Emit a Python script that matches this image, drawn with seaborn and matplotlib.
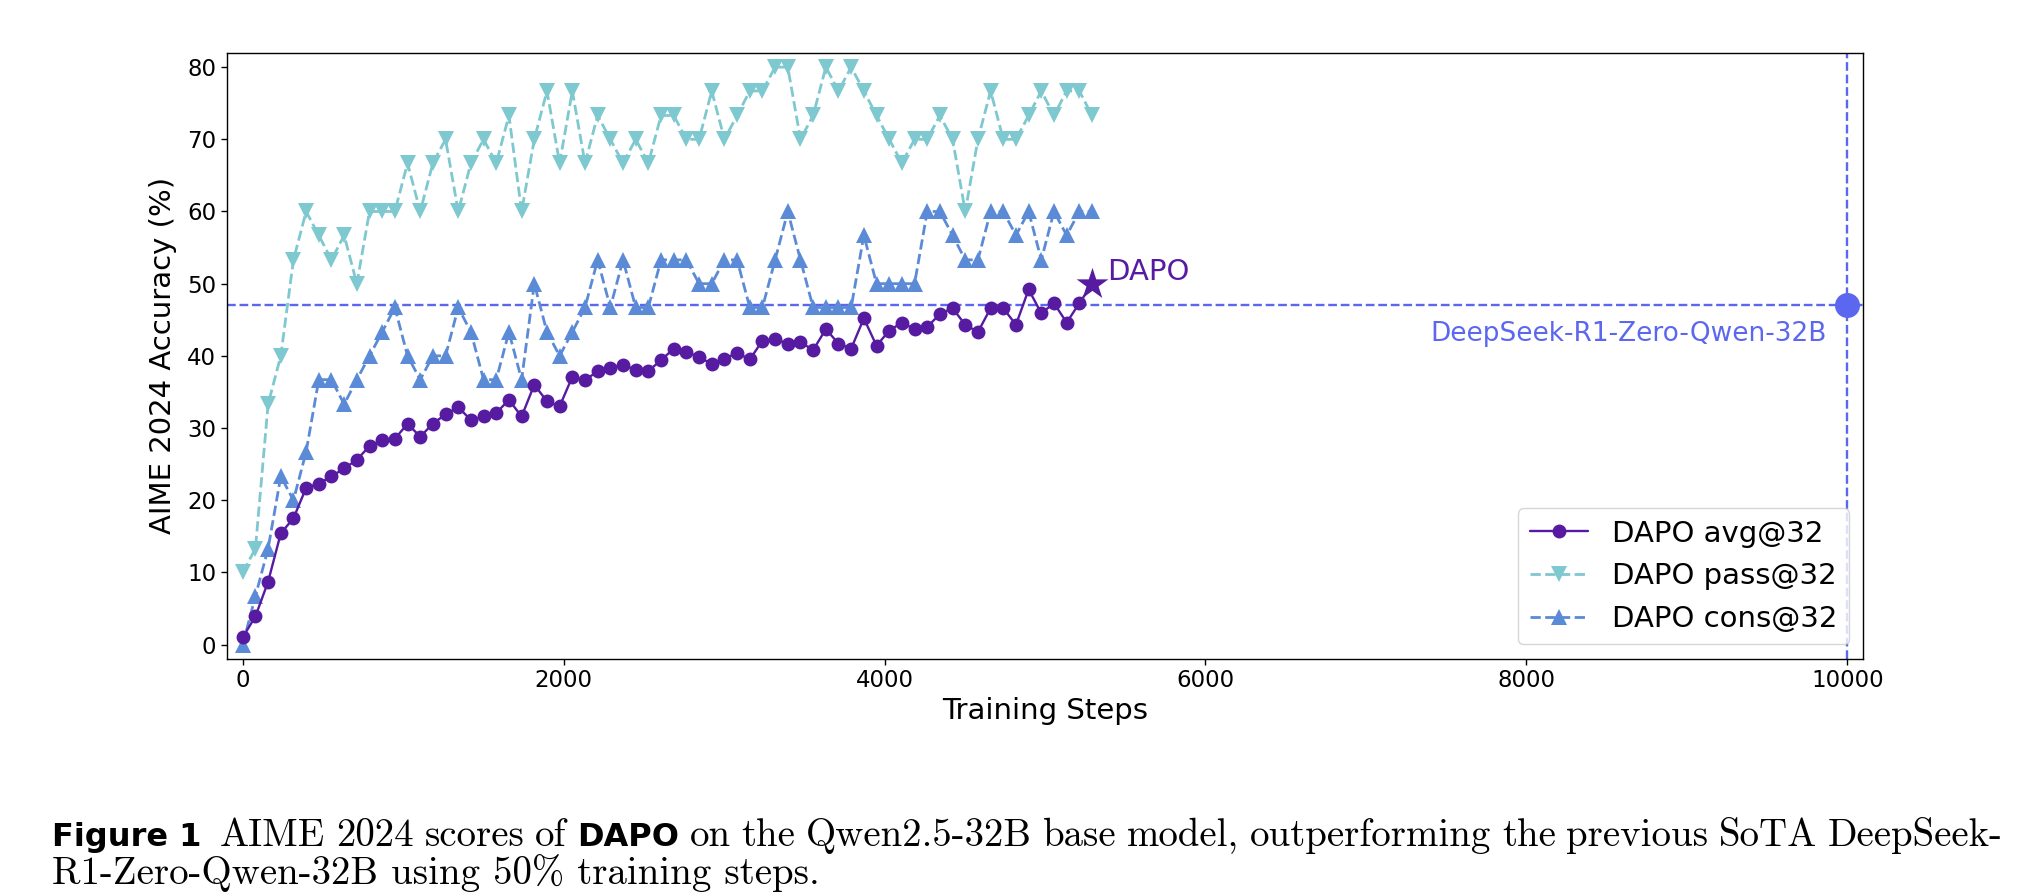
import matplotlib
matplotlib.use("Agg")
import matplotlib.pyplot as plt
from matplotlib.lines import Line2D
import seaborn as sns
import pandas as pd

# ---------------- data ----------------
steps = [0, 79, 158, 237, 316, 395, 474, 553, 632, 711, 790, 869, 948, 1027, 1106,
         1185, 1264, 1343, 1422, 1501, 1580, 1659, 1738, 1817, 1896, 1975, 2054,
         2133, 2212, 2291, 2370, 2449, 2528, 2607, 2686, 2765, 2844, 2923, 3002,
         3081, 3160, 3239, 3318, 3397, 3476, 3555, 3634, 3713, 3792, 3871, 3950,
         4029, 4108, 4187, 4266, 4345, 4424, 4503, 4582, 4661, 4740, 4819, 4898,
         4977, 5056, 5135, 5214, 5293]

avg32 = [1.0, 3.9, 8.7, 15.4, 17.5, 21.7, 22.3, 23.3, 24.4, 25.6, 27.5, 28.3, 28.5,
         30.6, 28.8, 30.6, 31.9, 32.9, 31.1, 31.6, 32.1, 33.9, 31.6, 36.0, 33.7,
         33.0, 37.1, 36.6, 37.9, 38.3, 38.8, 38.0, 37.9, 39.4, 41.0, 40.6, 39.8,
         38.9, 39.6, 40.4, 39.5, 42.1, 42.3, 41.7, 41.9, 40.8, 43.7, 41.7, 41.0,
         45.2, 41.4, 43.5, 44.6, 43.7, 44.0, 45.8, 46.6, 44.3, 43.3, 46.6, 46.6,
         44.3, 49.2, 45.9, 47.3, 44.6, 47.3, 49.9]

pass32 = [10.0, 13.3, 33.3, 40.0, 53.3, 60.0, 56.7, 53.3, 56.7, 50.0, 60.0, 60.0,
          60.0, 66.7, 60.0, 66.7, 70.0, 60.0, 66.7, 70.0, 66.7, 73.3, 60.0, 70.0,
          76.7, 66.7, 76.7, 66.7, 73.3, 70.0, 66.7, 70.0, 66.7, 73.3, 73.3, 70.0,
          70.0, 76.7, 70.0, 73.3, 76.7, 76.7, 80.0, 80.0, 70.0, 73.3, 80.0, 76.7,
          80.0, 76.7, 73.3, 70.0, 66.7, 70.0, 70.0, 73.3, 70.0, 60.0, 70.0, 76.7,
          70.0, 70.0, 73.3, 76.7, 73.3, 76.7, 76.7, 73.3]

cons32 = [0.0, 6.7, 13.3, 23.3, 20.0, 26.7, 36.7, 36.7, 33.3, 36.7, 40.0, 43.3,
          46.7, 40.0, 36.7, 40.0, 40.0, 46.7, 43.3, 36.7, 36.7, 43.3, 36.7, 50.0,
          43.3, 40.0, 43.3, 46.7, 53.3, 46.7, 53.3, 46.7, 46.7, 53.3, 53.3, 53.3,
          50.0, 50.0, 53.3, 53.3, 46.7, 46.7, 53.3, 60.0, 53.3, 46.7, 46.7, 46.7,
          46.7, 56.7, 50.0, 50.0, 50.0, 50.0, 60.0, 60.0, 56.7, 53.3, 53.3, 60.0,
          60.0, 56.7, 60.0, 53.3, 60.0, 56.7, 60.0, 60.0]

series_labels = ["DAPO avg@32", "DAPO pass@32", "DAPO cons@32"]
baseline_name = "DeepSeek-R1-Zero-Qwen-32B"
baseline_step = 10000
baseline_score = 47.0
x_ticks = [0, 2000, 4000, 6000, 8000, 10000]
y_ticks = [0, 10, 20, 30, 40, 50, 60, 70, 80]

caption_line1 = [("Figure 1", "sansbold"), ("AIME", "serif"), ("2024", "serif"),
                 ("scores", "serif"), ("of", "serif"), ("DAPO", "sansbold"),
                 ("on", "serif"), ("the", "serif"), ("Qwen2.5-32B", "serif"),
                 ("base", "serif"), ("model,", "serif"), ("outperforming", "serif"),
                 ("the", "serif"), ("previous", "serif"), ("SoTA", "serif"),
                 ("DeepSeek-", "serif")]
caption_line2 = "R1-Zero-Qwen-32B using 50% training steps."

# ---------------- style ----------------
C_AVG = "#561ba0"
C_PASS = "#7ec8d0"
C_CONS = "#5b8ad6"
C_DS = "#5b67ef"

sns.set_theme(style="ticks")
plt.rcParams["font.family"] = ["DejaVu Sans"]
plt.rcParams.update({
    "axes.edgecolor": "black", "axes.labelcolor": "black",
    "xtick.color": "black", "ytick.color": "black", "text.color": "black",
    "axes.linewidth": 1.0,
})

W, H = 2026, 894
fig = plt.figure(figsize=(W / 100, H / 100), dpi=100)
ax = fig.add_axes([226.7 / W, 1 - 659 / H, (1863.3 - 226.7) / W, (659 - 52.7) / H])

df = pd.DataFrame({"step": steps, "avg": avg32, "pass": pass32, "cons": cons32})

MS_TRI = 12
MS_CIR = 10

# reference lines
ax.axhline(baseline_score, color=C_DS, ls="--", lw=1.7, zorder=1)
ax.axvline(baseline_step, color=C_DS, ls="--", lw=1.7, zorder=1)

# series
sns.lineplot(data=df, x="step", y="pass", ax=ax, color=C_PASS, lw=2.0,
             linestyle="--", marker="v", markersize=MS_TRI, markeredgewidth=0,
             zorder=3, legend=False)
sns.lineplot(data=df, x="step", y="cons", ax=ax, color=C_CONS, lw=2.0,
             linestyle="--", marker="^", markersize=MS_TRI, markeredgewidth=0,
             zorder=3, legend=False)
sns.lineplot(data=df, x="step", y="avg", ax=ax, color=C_AVG, lw=1.7,
             zorder=4, legend=False)
sns.lineplot(data=df.iloc[:-1], x="step", y="avg", ax=ax, color=C_AVG, lw=0,
             marker="o", markersize=MS_CIR, markeredgewidth=0, zorder=5, legend=False)
sns.scatterplot(data=df.iloc[-1:], x="step", y="avg", ax=ax, color=C_AVG,
                marker="*", s=24 ** 2, linewidth=0, zorder=6, legend=False)
sns.scatterplot(x=[baseline_step], y=[baseline_score], ax=ax, color=C_DS,
                s=18 ** 2, linewidth=0, zorder=6, legend=False)

ax.text(5390, 50.5, "DAPO", color=C_AVG, fontsize=21, ha="left", va="baseline")
ax.text(9875, 42.0, baseline_name, color=C_DS, fontsize=19, ha="right",
        va="baseline")

ax.set_xlim(-100, 10100)
ax.set_ylim(-2, 82)
ax.set_xticks(x_ticks)
ax.set_yticks(y_ticks)
ax.tick_params(labelsize=16.5, length=4, width=1)
ax.set_xlabel("Training Steps", fontsize=21, labelpad=3)
ax.set_ylabel("AIME 2024 Accuracy (%)", fontsize=21, labelpad=7)

handles = [
    Line2D([], [], color=C_AVG, lw=1.7, marker="o", markersize=MS_CIR, markeredgewidth=0),
    Line2D([], [], color=C_PASS, lw=2.0, ls="--", marker="v", markersize=MS_TRI, markeredgewidth=0),
    Line2D([], [], color=C_CONS, lw=2.0, ls="--", marker="^", markersize=MS_TRI, markeredgewidth=0),
]
leg = ax.legend(handles, series_labels, loc="lower right", fontsize=21,
                frameon=True, fancybox=True, framealpha=0.8, edgecolor="#cccccc")

# ---------------- caption (justified first line) ----------------
renderer = fig.canvas.get_renderer()
FONTS = {"serif": dict(family="cmr10", fontsize=28, fontweight="normal"),
         "sansbold": dict(family="DejaVu Sans", fontsize=23, fontweight="bold")}
X0, X1 = 52, 2003
Y1, Y2 = 846, 884

texts = []
for word, kind in caption_line1:
    t = fig.text(0, 1 - Y1 / H, word, ha="left", va="baseline", **FONTS[kind])
    texts.append(t)
widths = [t.get_window_extent(renderer).width for t in texts]
extra_first = 8
gap = (X1 - X0 - sum(widths) - extra_first) / (len(texts) - 1)
x = X0
for i, (t, w) in enumerate(zip(texts, widths)):
    t.set_x(x / W)
    x += w + gap + (extra_first if i == 0 else 0)

fig.text(X0 / W, 1 - Y2 / H, caption_line2, ha="left", va="baseline", **FONTS["serif"])

fig.savefig("out.png", dpi=100)
